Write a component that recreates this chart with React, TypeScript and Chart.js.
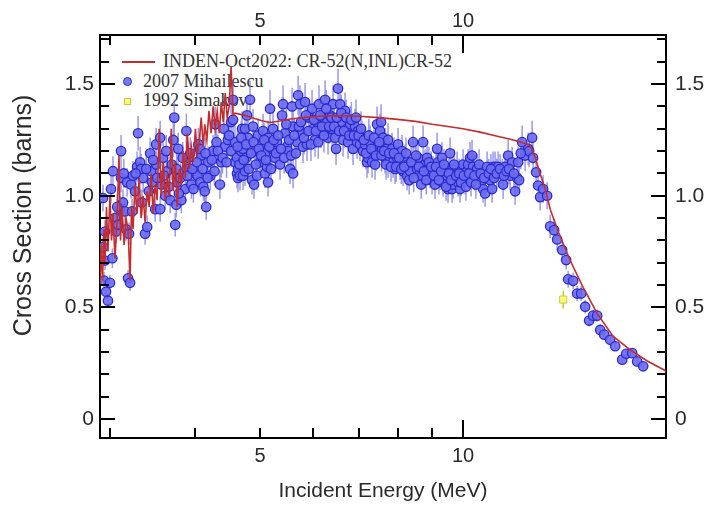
import React, { useEffect, useRef } from 'react';
import { Chart, registerables } from 'chart.js';

Chart.register(...registerables);

// ---------- text ----------
const SERIES_ENDF = 'INDEN-Oct2022: CR-52(N,INL)CR-52';
const SERIES_MIH = '2007 Mihailescu';
const SERIES_SIM = '1992 Simakov';
const X_TITLE = 'Incident Energy (MeV)';
const Y_TITLE = 'Cross Section (barns)';

// ---------- axes ----------
const X_MIN = 2.895;
const X_MAX = 20.0;
const Y_MIN = -0.085;
const Y_MAX = 1.72;
const X_TICKS = [3, 4, 5, 6, 7, 8, 9, 10];
const X_LABEL_VALUES = [5, 10];
const X_LABELS = ['5', '10'];
const X_MAJOR = [10];
const Y_TICKS = [0, 0.1, 0.2, 0.3, 0.4, 0.5, 0.6, 0.7, 0.8, 0.9, 1.0, 1.1, 1.2, 1.3, 1.4, 1.5, 1.6, 1.7];
const Y_LABEL_VALUES = [0, 0.5, 1.0, 1.5];
const Y_LABELS = ['0', '0.5', '1.0', '1.5'];

// ---------- evaluated data (INDEN-Oct2022) ----------
const ENDF_E = [
  2.895, 2.905, 2.920, 2.935, 2.945, 2.960, 2.975, 2.995, 3.011, 3.026,
  3.047, 3.068, 3.089, 3.105, 3.121, 3.143, 3.164, 3.186, 3.208, 3.224,
  3.241, 3.263, 3.286, 3.309, 3.331, 3.354, 3.377, 3.401, 3.424, 3.447,
  3.471, 3.495, 3.519, 3.543, 3.568, 3.592, 3.617, 3.642, 3.667, 3.692,
  3.718, 3.743, 3.769, 3.795, 3.822, 3.848, 3.874, 3.901, 3.928, 3.955,
  3.983, 4.010, 4.038, 4.065, 4.09, 4.12, 4.14, 4.17, 4.20, 4.23,
  4.26, 4.29, 4.32, 4.35, 4.38, 4.41, 4.44, 4.47, 4.50, 4.53,
  4.56, 4.59,
  4.75, 4.92, 5.05, 5.17, 5.35, 5.54, 5.9, 6.2, 6.6, 7.0,
  7.5, 8.0, 8.5, 9.0, 9.5, 10.0, 10.6, 11.2, 11.8, 12.2,
  12.58, 12.8, 13.01, 13.24, 13.47, 13.84, 14.42, 15.07, 15.83, 16.70,
  17.70, 18.76, 20.0,
];
const ENDF_XS = [
  0.60, 0.78, 0.62, 0.85, 0.70, 0.95, 0.75, 1.00, 0.80, 0.92,
  0.72, 0.88, 1.18, 0.80, 0.95, 0.78, 0.90, 0.85, 0.62, 0.95,
  0.85, 1.05, 0.92, 1.08, 0.90, 1.00, 0.88, 1.02, 0.95, 1.10,
  0.92, 1.05, 0.98, 1.30, 1.00, 1.15, 0.98, 1.08, 1.00, 1.30,
  1.02, 1.15, 0.95, 1.12, 1.05, 1.20, 1.08, 1.28, 1.12, 1.22,
  1.15, 1.30, 1.18, 1.25, 1.35, 1.22, 1.32, 1.25, 1.38, 1.28,
  1.40, 1.30, 1.38, 1.28, 1.42, 1.33, 1.46, 1.35, 1.40, 1.58,
  1.36, 1.37,
  1.36, 1.345, 1.335, 1.328, 1.335, 1.344, 1.352, 1.357, 1.358, 1.356,
  1.350, 1.342, 1.333, 1.320, 1.310, 1.300, 1.285, 1.268, 1.252, 1.240,
  1.225, 1.17, 1.10, 1.03, 0.94, 0.84, 0.71, 0.59, 0.47, 0.37,
  0.31, 0.26, 0.215,
];

// ---------- 2007 Mihailescu ----------
const MIH_E = [
  2.925, 2.925, 2.935, 2.945, 2.945, 2.955, 2.975, 2.995, 3.006, 3.026,
  3.047, 3.058, 3.079, 3.100, 3.111, 3.111, 3.132, 3.153, 3.164, 3.175,
  3.186, 3.197, 3.208, 3.219, 3.241, 3.263, 3.286, 3.297, 3.320, 3.331,
  3.354, 3.377, 3.401, 3.436, 3.447, 3.459, 3.495, 3.507, 3.507, 3.555,
  3.555, 3.568, 3.592, 3.617, 3.642, 3.680, 3.718, 3.731, 3.743, 3.756,
  3.769, 3.782, 3.808, 3.822, 3.874, 3.888, 3.901, 3.915, 3.955, 3.983,
  4.010, 4.038, 4.051, 4.079, 4.09, 4.12, 4.14, 4.16, 4.19, 4.22,
  4.26, 4.29, 4.31, 4.36, 4.38, 4.44, 4.48, 4.53, 4.53, 4.56,
  4.56, 4.59, 4.59, 4.622, 4.622, 4.638, 4.638, 4.670, 4.686, 4.702,
  4.718, 4.718, 4.750, 4.750, 4.767, 4.783, 4.799, 4.832, 4.865, 4.882,
  4.899, 4.915, 4.949, 4.966, 5.000, 5.034, 5.052, 5.086, 5.086, 5.121,
  5.139, 5.139, 5.174, 5.210, 5.227, 5.263, 5.299, 5.354, 5.391, 5.409,
  5.446, 5.483, 5.502, 5.540, 5.578, 5.597, 5.597, 5.674, 5.694, 5.732,
  5.771, 5.791, 5.831, 5.871, 5.911, 5.972, 5.992, 6.033, 6.075, 6.116,
  6.158, 6.200, 6.243, 6.286, 6.307, 6.350, 6.394, 6.416, 6.460, 6.482,
  6.526, 6.571, 6.616, 6.639, 6.684, 6.730, 6.753, 6.799, 6.846, 6.869,
  6.916, 6.964, 6.987, 7.035, 7.083, 7.108, 7.157, 7.205, 7.230, 7.280,
  7.330, 7.355, 7.406, 7.456, 7.482, 7.533, 7.559, 7.585, 7.611, 7.663,
  7.663, 7.715, 7.742, 7.742, 7.795, 7.848, 7.875, 7.929, 7.983, 8.011,
  8.066, 8.121, 8.149, 8.205, 8.261, 8.289, 8.346, 8.432, 8.490, 8.548,
  8.577, 8.636, 8.695, 8.725, 8.785, 8.845, 8.875, 8.936, 8.997, 9.028,
  9.090, 9.152, 9.183, 9.246, 9.309, 9.341, 9.405, 9.470, 9.502, 9.568,
  9.634, 9.634, 9.667, 9.733, 9.800, 9.833, 9.900, 9.968, 10.002, 10.070,
  10.139, 10.174, 10.244, 10.314, 10.349, 10.492, 10.564, 10.673, 10.709, 10.783,
  10.857, 10.969, 11.044, 11.082, 11.158, 11.273, 11.428, 11.467, 11.546, 11.665,
  11.745, 11.826, 11.947, 12.029, 12.112, 12.236, 12.362, 12.490, 12.533, 12.661,
  12.70, 12.835, 12.923, 13.012, 13.146, 13.327, 13.465, 13.650, 13.791, 14.029,
  14.222, 14.320, 14.566, 14.766, 14.969, 15.177, 15.384, 15.595, 15.809, 15.974,
  16.194, 16.529, 16.814, 17.221, 17.459, 17.819, 18.124, 18.501,
  // densely packed points inside the main band
  3.02, 3.07, 3.14, 3.23, 3.27, 3.34, 3.39, 3.42, 3.47, 3.52,
  3.60, 3.63, 3.66, 3.70, 3.76, 3.79, 3.84, 3.90, 3.94, 3.97,
  4.03, 4.07, 4.11, 4.15, 4.18, 4.24, 4.28, 4.33, 4.40, 4.42,
  4.46, 4.50, 4.63, 4.66, 4.69, 4.73, 4.77, 4.81, 4.85, 4.89,
  4.93, 4.98, 5.02, 5.07, 5.10, 5.16, 5.19, 5.24, 5.28, 5.32,
  5.37, 5.43, 5.47, 5.52, 5.56, 5.62, 5.65, 5.71, 5.75, 5.81,
  5.85, 5.90, 5.95, 6.01, 6.05, 6.10, 6.14, 6.18, 6.22, 6.27,
  6.33, 6.38, 6.44, 6.50, 6.55, 6.60, 6.66, 6.71, 6.78, 6.83,
  6.89, 6.94, 7.00, 7.06, 7.13, 7.18, 7.25, 7.31, 7.38, 7.43,
  7.51, 7.57, 7.64, 7.69, 7.77, 7.82, 7.90, 7.96, 8.04, 8.10,
  8.18, 8.23, 8.32, 8.38, 8.45, 8.52, 8.60, 8.67, 8.75, 8.82,
  8.90, 8.97, 9.06, 9.12, 9.21, 9.28, 9.37, 9.44, 9.53, 9.60,
  9.70, 9.77, 9.87, 9.93, 10.03, 10.10, 10.21, 10.28, 10.40, 10.45,
  10.62, 10.75, 10.92, 11.00, 11.12, 11.22, 11.35, 11.50, 11.60, 11.70,
  11.90, 12.07, 12.18,
];
const MIH_XS = [
  0.99, 0.77, 0.62, 0.84, 0.71, 0.57, 0.53, 0.61, 1.03, 1.11,
  0.90, 0.84, 0.87, 0.94, 1.20, 1.08, 0.97, 0.93, 0.85, 1.06,
  0.63, 0.83, 0.61, 1.05, 1.09, 1.02, 1.13, 1.28, 1.15, 1.12,
  1.08, 0.83, 0.86, 1.19, 1.11, 1.06, 0.94, 1.23, 1.14, 0.94,
  1.26, 1.05, 1.17, 1.00, 1.11, 0.98, 1.25, 1.35, 0.87, 0.96,
  1.06, 1.21, 1.08, 0.98, 1.03, 1.29, 1.12, 1.17, 1.05, 1.03,
  1.10, 1.09, 1.23, 1.06, 1.18, 1.04, 1.02, 0.95, 1.15, 1.09,
  1.20, 1.32, 1.24, 1.05, 1.15, 1.22, 1.25, 1.33, 1.20, 1.43,
  1.34, 1.15, 1.24, 1.17, 1.10, 1.12, 1.08, 1.09, 1.20, 1.30,
  1.09, 1.21, 1.30, 1.11, 1.17, 1.36, 1.26, 1.43, 1.07, 1.31,
  1.05, 1.20, 1.09, 1.27, 1.15, 1.23, 1.29, 1.19, 1.10, 1.13,
  1.06, 1.26, 1.39, 1.21, 1.30, 1.17, 1.24, 1.14, 1.36, 1.41,
  1.28, 1.22, 1.20, 1.12, 1.40, 1.10, 1.31, 1.24, 1.45, 1.41,
  1.28, 1.22, 1.42, 1.23, 1.35, 1.39, 1.30, 1.25, 1.33, 1.41,
  1.29, 1.35, 1.43, 1.33, 1.26, 1.36, 1.30, 1.41, 1.26, 1.21,
  1.48, 1.41, 1.33, 1.25, 1.38, 1.30, 1.24, 1.32, 1.27, 1.21,
  1.31, 1.24, 1.29, 1.23, 1.26, 1.20, 1.23, 1.15, 1.17, 1.24,
  1.15, 1.20, 1.14, 1.32, 1.23, 1.29, 1.33, 1.21, 1.26, 1.17,
  1.23, 1.21, 1.15, 1.25, 1.17, 1.21, 1.15, 1.12, 1.17, 1.23,
  1.14, 1.20, 1.11, 1.16, 1.09, 1.14, 1.11, 1.24, 1.15, 1.12,
  1.17, 1.10, 1.09, 1.24, 1.14, 1.17, 1.12, 1.10, 1.07, 1.11,
  1.05, 1.21, 1.15, 1.09, 1.17, 1.06, 1.12, 1.09, 1.03, 1.19,
  1.12, 1.03, 1.05, 1.09, 1.13, 1.06, 1.03, 1.10, 1.14, 1.07,
  1.11, 1.14, 1.17, 1.18, 1.13, 1.12, 1.14, 1.07, 1.03, 1.01,
  1.13, 1.07, 1.03, 1.13, 1.13, 1.13, 1.10, 1.05, 1.13, 1.18,
  1.09, 1.15, 1.02, 1.08, 1.07, 1.24, 1.18, 1.21, 1.20, 1.26,
  1.17, 1.105, 1.046, 0.994, 1.03, 1.00, 0.863, 0.846, 0.804, 0.757,
  0.712, 0.626, 0.619, 0.562, 0.562, 0.503, 0.441, 0.463, 0.463, 0.399,
  0.378, 0.355, 0.326, 0.266, 0.292, 0.295, 0.258, 0.236,
  // densely packed points inside the main band
  0.72, 0.95, 1.10, 0.93, 1.10, 0.97, 1.12, 1.02, 1.16, 1.08,
  1.09, 1.20, 1.04, 1.14, 1.12, 1.01, 1.17, 1.09, 1.19, 1.12,
  1.15, 1.21, 1.12, 1.19, 1.08, 1.16, 1.11, 1.20, 1.17, 1.30,
  1.15, 1.27, 1.22, 1.14, 1.26, 1.16, 1.23, 1.12, 1.19, 1.24,
  1.14, 1.21, 1.18, 1.25, 1.16, 1.22, 1.12, 1.25, 1.19, 1.27,
  1.21, 1.17, 1.32, 1.25, 1.18, 1.27, 1.19, 1.31, 1.33, 1.26,
  1.36, 1.29, 1.23, 1.34, 1.29, 1.24, 1.36, 1.31, 1.27, 1.39,
  1.31, 1.35, 1.31, 1.35, 1.29, 1.37, 1.29, 1.35, 1.27, 1.34,
  1.27, 1.35, 1.27, 1.30, 1.25, 1.19, 1.27, 1.21, 1.26, 1.18,
  1.24, 1.18, 1.20, 1.14, 1.19, 1.13, 1.19, 1.13, 1.17, 1.12,
  1.13, 1.19, 1.07, 1.15, 1.08, 1.18, 1.13, 1.05, 1.11, 1.07,
  1.15, 1.13, 1.09, 1.13, 1.07, 1.11, 1.14, 1.04, 1.10, 1.07,
  1.14, 1.09, 1.10, 1.06, 1.09, 1.04, 1.10, 1.06, 1.09, 1.05,
  1.10, 1.08, 1.10, 1.12, 1.08, 1.10, 1.12, 1.09, 1.11, 1.12,
  1.10, 1.15, 1.19,
];
const MIH_REL_ERR = 0.06;

// ---------- 1992 Simakov ----------
const SIM_E = [14.08];
const SIM_XS = [0.535];
const SIM_ERR = [0.04];

// ---------- styles ----------
const RED = '#c62c2c';
const BLUE_FILL = 'rgba(108,108,238,0.9)';
const BLUE_EDGE = '#2a2ad0';
const BLUE_ERR = 'rgba(110,110,225,0.7)';
const YEL_FILL = '#ffff78';
const YEL_EDGE = '#c8c840';
const TEXT = '#2a2a2a';
const SANS = '"Liberation Sans", Arial, Helvetica, sans-serif';
const SERIF = '"Liberation Serif", "Times New Roman", Times, serif';

const errorBars = {
  id: 'errorBars',
  beforeDatasetsDraw(chart: any) {
    const { ctx, chartArea: a, scales } = chart;
    const sx = scales.x;
    const sy = scales.y;
    ctx.save();
    ctx.beginPath();
    ctx.rect(a.left, a.top, a.right - a.left, a.bottom - a.top);
    ctx.clip();
    ctx.lineWidth = 1.5;
    ctx.strokeStyle = BLUE_ERR;
    ctx.beginPath();
    for (let i = 0; i < MIH_E.length; i++) {
      const px = sx.getPixelForValue(MIH_E[i]);
      const d = MIH_XS[i] * MIH_REL_ERR;
      ctx.moveTo(px, sy.getPixelForValue(MIH_XS[i] - d));
      ctx.lineTo(px, sy.getPixelForValue(MIH_XS[i] + d));
    }
    ctx.stroke();
    ctx.strokeStyle = YEL_EDGE;
    ctx.beginPath();
    for (let i = 0; i < SIM_E.length; i++) {
      const px = sx.getPixelForValue(SIM_E[i]);
      ctx.moveTo(px, sy.getPixelForValue(SIM_XS[i] - SIM_ERR[i]));
      ctx.lineTo(px, sy.getPixelForValue(SIM_XS[i] + SIM_ERR[i]));
    }
    ctx.stroke();
    ctx.restore();
  },
};

const inwardTicks = {
  id: 'inwardTicks',
  afterDraw(chart: any) {
    const { ctx, chartArea: a, scales } = chart;
    ctx.save();
    ctx.strokeStyle = '#000';
    ctx.lineWidth = 2;
    ctx.beginPath();
    for (const v of X_TICKS) {
      const px = Math.round(scales.x.getPixelForValue(v));
      const len = X_MAJOR.includes(v) ? 18 : 10;
      ctx.moveTo(px, a.bottom);
      ctx.lineTo(px, a.bottom - len);
      ctx.moveTo(px, a.top);
      ctx.lineTo(px, a.top + len);
    }
    for (const v of Y_TICKS) {
      const py = Math.round(scales.y.getPixelForValue(v));
      const len = Y_LABEL_VALUES.some((t) => Math.abs(t - v) < 1e-6) ? 15 : 9;
      ctx.moveTo(a.left, py);
      ctx.lineTo(a.left + len, py);
      ctx.moveTo(a.right, py);
      ctx.lineTo(a.right - len, py);
    }
    ctx.stroke();
    ctx.restore();
  },
};

// vertical axis title, placed where the reference has it (slightly above the plot centre)
const yAxisTitle = {
  id: 'yAxisTitle',
  afterDraw(chart: any) {
    const { ctx, chartArea: a } = chart;
    ctx.save();
    ctx.translate(24, (a.top + a.bottom) / 2 - 21);
    ctx.rotate(-Math.PI / 2);
    ctx.font = `25px ${SANS}`;
    ctx.fillStyle = TEXT;
    ctx.textAlign = 'center';
    ctx.textBaseline = 'middle';
    ctx.fillText(Y_TITLE, 0, 0);
    ctx.restore();
  },
};

function xTickLabel(v: any) {
  const i = X_LABEL_VALUES.findIndex((t) => Math.abs(t - Number(v)) < 1e-6);
  return i >= 0 ? X_LABELS[i] : '';
}
function yTickLabel(v: any) {
  const i = Y_LABEL_VALUES.findIndex((t) => Math.abs(t - Number(v)) < 1e-6);
  return i >= 0 ? Y_LABELS[i] : '';
}

function xScale(position: string, size: number, withTitle: boolean, pad: number) {
  return {
    type: 'logarithmic',
    position,
    min: X_MIN,
    max: X_MAX,
    afterBuildTicks: (s: any) => {
      s.ticks = X_TICKS.map((v) => ({ value: v }));
    },
    afterFit: (s: any) => {
      s.height = size;
    },
    ticks: {
      autoSkip: false,
      maxRotation: 0,
      minRotation: 0,
      padding: pad,
      color: TEXT,
      font: { family: SANS, size: 20 },
      callback: xTickLabel,
    },
    grid: { display: false, drawTicks: false, drawOnChartArea: false },
    border: { display: true, color: '#000', width: 2 },
    title: {
      display: withTitle,
      text: X_TITLE,
      color: TEXT,
      font: { family: SANS, size: 21 },
      padding: { top: 0, bottom: 1 },
    },
  };
}

function yScale(position: string, size: number, pad: number) {
  return {
    type: 'linear',
    position,
    min: Y_MIN,
    max: Y_MAX,
    afterBuildTicks: (s: any) => {
      s.ticks = Y_TICKS.map((v) => ({ value: v }));
    },
    afterFit: (s: any) => {
      s.width = size;
    },
    ticks: {
      autoSkip: false,
      padding: pad,
      color: TEXT,
      font: { family: SANS, size: 21 },
      callback: yTickLabel,
    },
    grid: { display: false, drawTicks: false, drawOnChartArea: false },
    border: { display: true, color: '#000', width: 2 },
    title: { display: false, text: Y_TITLE },
  };
}

export default function App() {
  const ref = useRef<HTMLCanvasElement>(null);

  useEffect(() => {
    if (!ref.current) return;
    const chart = new Chart(ref.current, {
      type: 'scatter',
      data: {
        datasets: [
          {
            type: 'line',
            label: SERIES_ENDF,
            data: ENDF_E.map((e, i) => ({ x: e, y: ENDF_XS[i] })),
            borderColor: RED,
            borderWidth: 1.6,
            pointRadius: 0,
            tension: 0,
            fill: false,
          },
          {
            label: SERIES_MIH,
            data: MIH_E.map((e, i) => ({ x: e, y: MIH_XS[i] })),
            pointStyle: 'circle',
            pointRadius: 4.7,
            backgroundColor: BLUE_FILL,
            borderColor: BLUE_EDGE,
            borderWidth: 1.3,
          },
          {
            label: SERIES_SIM,
            data: SIM_E.map((e, i) => ({ x: e, y: SIM_XS[i] })),
            pointStyle: 'rect',
            pointRadius: 5,
            backgroundColor: YEL_FILL,
            borderColor: YEL_EDGE,
            borderWidth: 1,
          },
        ],
      } as any,
      options: {
        animation: false,
        responsive: false,
        devicePixelRatio: 1,
        layout: { padding: 0 },
        plugins: {
          legend: { display: false },
          tooltip: { enabled: false },
        },
        scales: {
          x: xScale('bottom', 67, true, 6),
          x2: xScale('top', 35, false, 2),
          y: yScale('left', 100, 6),
          y2: yScale('right', 43, 9),
        } as any,
      },
      plugins: [errorBars, inwardTicks, yAxisTitle],
    } as any);
    return () => chart.destroy();
  }, []);

  const legendText: React.CSSProperties = {
    position: 'absolute',
    whiteSpace: 'nowrap',
    fontFamily: SERIF,
    fontSize: 18,
    lineHeight: '20px',
    color: '#333',
  };

  return (
    <div style={{ position: 'absolute', left: 0, top: 0, width: 709, height: 505, background: '#fff', overflow: 'hidden' }}>
      <div style={{ position: 'absolute', left: 122, top: 61, width: 33, height: 2, background: RED }} />
      <div style={{ ...legendText, left: 163, top: 51 }}>{SERIES_ENDF}</div>
      <div
        style={{
          position: 'absolute', left: 123, top: 77, width: 9, height: 9, borderRadius: '50%',
          background: BLUE_FILL, border: `1.3px solid ${BLUE_EDGE}`, boxSizing: 'border-box',
        }}
      />
      <div style={{ ...legendText, left: 143, top: 71 }}>{SERIES_MIH}</div>
      <div
        style={{
          position: 'absolute', left: 124, top: 98, width: 7, height: 7,
          background: YEL_FILL, border: `1px solid ${YEL_EDGE}`, boxSizing: 'border-box',
        }}
      />
      <div style={{ ...legendText, left: 143, top: 90 }}>{SERIES_SIM}</div>
      <canvas ref={ref} width={709} height={505} style={{ position: 'absolute', left: 0, top: 0 }} />
    </div>
  );
}
